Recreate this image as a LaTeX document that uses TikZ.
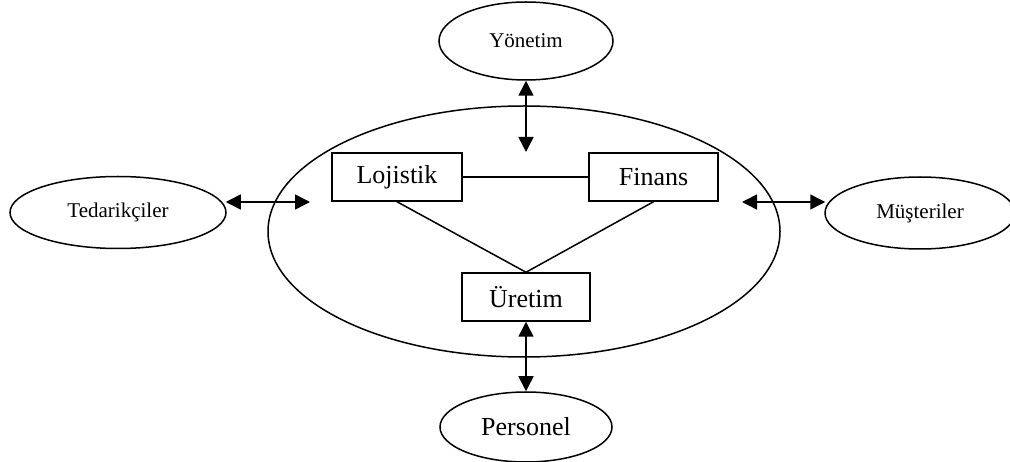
\documentclass[tikz,border=0pt]{standalone}
\usepackage{fontspec}
\setmainfont{Liberation Serif}
\usetikzlibrary{shapes.geometric,arrows.meta}
\begin{document}
\begin{tikzpicture}[x=1pt,y=-1pt,
  line width=1.5pt,
  party/.style={draw,ellipse,inner sep=0pt,font=\fontsize{21}{24}\selectfont},
  bigparty/.style={draw,ellipse,inner sep=0pt,font=\fontsize{26}{30}\selectfont},
  unit/.style={draw,rectangle,inner sep=0pt,minimum width=129pt,minimum height=48pt,font=\fontsize{26}{30}\selectfont},
  link/.style={line width=1.5pt},
  flow/.style={{Triangle[length=15pt,width=15pt]}-{Triangle[length=15pt,width=15pt]}}]
  \useasboundingbox (0,0) rectangle (1010,462);
  % enterprise boundary
  \node[draw,ellipse,inner sep=0pt,minimum width=512pt,minimum height=251pt] (firm) at (524,231.5) {};
  % internal units
  \node[unit,minimum width=130pt] (loj) at (397,177) {Lojistik};
  \node[unit] (fin) at (653.5,177) {Finans};
  \node[unit,minimum width=128pt] (ure) at (526,297) {Üretim};
  % external parties
  \node[party,minimum width=174pt,minimum height=78pt] (yon) at (526,41) {Yönetim};
  \node[party,minimum width=216pt,minimum height=72pt] (ted) at (118,212.5) {Tedarikçiler};
  \node[party,minimum width=190pt,minimum height=72pt] (mus) at (920,213) {Müşteriler};
  \node[bigparty,minimum width=172pt,minimum height=70pt] (per) at (526,427) {Personel};
  % free ends of the exchange arrows inside the boundary
  \coordinate (yonIn) at (526,152);
  \coordinate (tedIn) at (310,202);
  \coordinate (musIn) at (742,202);
  % links between units
  \draw[link] (loj.east) -- (fin.west);
  \draw[link] (loj.south) -- (ure.north);
  \draw[link] (fin.south) -- (ure.north);
  % exchanges with outside parties
  \draw[flow] (yon.south) -- (yonIn);
  \draw[flow] ([yshift=10.5pt,xshift=-1pt]ted.east) -- (tedIn);
  \draw[flow] (musIn) -- ([yshift=11pt,xshift=1pt]mus.west);
  \draw[flow] (ure.south) -- (per.north);
\end{tikzpicture}
\end{document}
